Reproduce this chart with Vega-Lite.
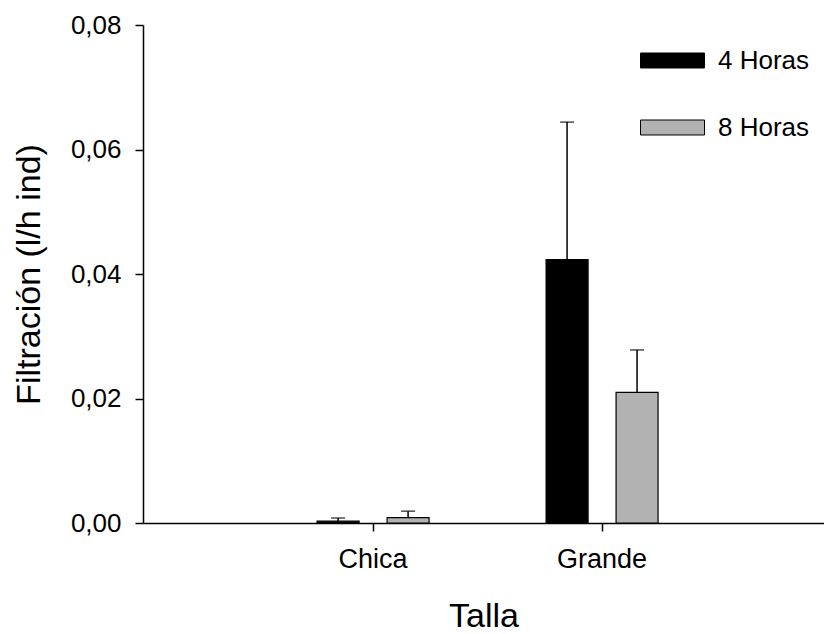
{
  "$schema": "https://vega.github.io/schema/vega-lite/v6.json",
  "autosize": {"type": "none"},
  "padding": {"left": 143, "top": 25, "right": 0, "bottom": 111},
  "width": 681,
  "height": 498,
  "background": "white",
  "config": {
    "view": {"stroke": null},
    "font": "Liberation Sans",
    "axis": {
      "domainColor": "black",
      "domainWidth": 1.5,
      "tickColor": "black",
      "tickWidth": 1.5,
      "tickSize": 8,
      "labelColor": "black",
      "titleColor": "black",
      "labelFont": "Liberation Sans",
      "titleFont": "Liberation Sans",
      "titleFontWeight": "normal",
      "grid": false
    }
  },
  "data": {
    "values": [
      {"talla": "Chica", "tiempo": "4 Horas", "media": 0.0003, "sup": 0.0008},
      {"talla": "Chica", "tiempo": "8 Horas", "media": 0.00085, "sup": 0.0019},
      {"talla": "Grande", "tiempo": "4 Horas", "media": 0.0423, "sup": 0.0644},
      {"talla": "Grande", "tiempo": "8 Horas", "media": 0.021, "sup": 0.0278}
    ]
  },
  "encoding": {
    "x": {
      "field": "talla",
      "type": "nominal",
      "scale": {"paddingInner": 0.511, "paddingOuter": 0.7425, "align": 0.512},
      "axis": {
        "title": "Talla",
        "labelAngle": 0,
        "labelFontSize": 27,
        "labelPadding": 15,
        "titleFontSize": 34,
        "titlePadding": 27
      }
    },
    "xOffset": {
      "field": "tiempo",
      "type": "nominal",
      "scale": {"paddingInner": 0.4, "paddingOuter": 0}
    }
  },
  "layer": [
    {
      "mark": {"type": "bar", "stroke": "black", "strokeWidth": 1.2},
      "encoding": {
        "y": {
          "field": "media",
          "type": "quantitative",
          "scale": {"domain": [0, 0.08], "nice": false, "zero": true},
          "axis": {
            "title": "Filtración (l/h ind)",
            "values": [0, 0.02, 0.04, 0.06, 0.08],
            "labelExpr": "replace(format(datum.value, '.2f'), '.', ',')",
            "labelFontSize": 26,
            "labelPadding": 14,
            "titleFontSize": 34,
            "titlePadding": 24
          }
        },
        "color": {
          "field": "tiempo",
          "type": "nominal",
          "scale": {"domain": ["4 Horas", "8 Horas"], "range": ["#000000", "#b2b2b2"]},
          "legend": {
            "title": null,
            "orient": "none",
            "legendX": 497,
            "legendY": 3,
            "symbolType": "M-1,-0.234H1V0.234H-1Z",
            "symbolSize": 4096,
            "symbolStrokeColor": "black",
            "symbolStrokeWidth": 1,
            "symbolOpacity": 1,
            "labelFontSize": 26,
            "labelColor": "black",
            "labelOffset": 13,
            "rowPadding": 21
          }
        }
      }
    },
    {
      "mark": {"type": "rule", "color": "black", "strokeWidth": 1.5},
      "encoding": {
        "y": {"field": "media", "type": "quantitative"},
        "y2": {"field": "sup"}
      }
    },
    {
      "mark": {"type": "tick", "color": "black", "thickness": 1.5, "size": 14, "orient": "horizontal"},
      "encoding": {
        "y": {"field": "sup", "type": "quantitative"}
      }
    }
  ]
}
